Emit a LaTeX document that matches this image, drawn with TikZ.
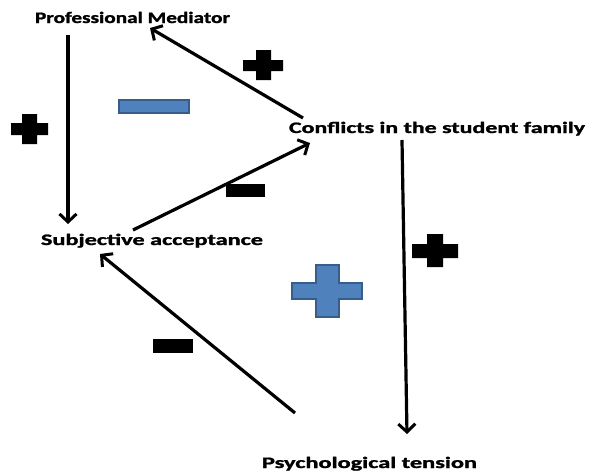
\documentclass[tikz,border=0pt]{standalone}
\usepackage{fontspec}
\setmainfont{Carlito}
\newfontfamily\lblfont{Carlito Bold}[FakeBold=1.3]
\usetikzlibrary{arrows.meta}
\definecolor{signblue}{HTML}{4F81BD}
\definecolor{signblueedge}{HTML}{385D8A}
\newcommand{\lbltext}[2]{\resizebox{#1pt}{\height}{\fontsize{16}{16}\lblfont #2}}
\tikzset{
  lbl/.style={anchor=base west, inner sep=0pt, outer sep=0pt},
  conn/.style={line width=3.2pt, -{Straight Barb[length=8pt,width=17pt,line width=3pt]}},
  blacksign/.style={fill=black, draw=none},
  bluesign/.style={fill=signblue, draw=signblueedge, line width=2.2pt},
}
\begin{document}
\begin{tikzpicture}[x=1pt,y=-1pt]
\useasboundingbox (0,0) rectangle (590,474);
% labels
\node[lbl] (pm) at (35,23) {\lbltext{195}{Professional Mediator}};
\node[lbl] (cf) at (289,133) {\lbltext{296}{Conflicts in the student family}};
\node[lbl] (sa) at (41,245) {\lbltext{222}{Subjective acceptance}};
\node[lbl] (pt) at (262,468) {\lbltext{215}{Psychological tension}};
% connector end points
\coordinate (pmS) at (68,35);
\coordinate (saN) at (68,224);
\coordinate (cfW) at (303,118);
\coordinate (pmE) at (150,28);
\coordinate (saE) at (133,230);
\coordinate (cfSW) at (310,143);
\coordinate (cfS) at (402,140);
\coordinate (ptN) at (407,434);
\coordinate (ptNW) at (295,413);
\coordinate (saS) at (100,254);
% connectors
\draw[conn] (pmS) -- (saN);
\draw[conn] (cfW) -- (pmE);
\draw[conn] (saE) -- (cfSW);
\draw[conn] (cfS) -- (ptN);
\draw[conn] (ptNW) -- (saS);
% black plus signs
\fill[blacksign] (22,114) -- (37,114) -- (37,123) -- (48,123) -- (48,135) -- (37,135) -- (37,144) -- (22,144) -- (22,135) -- (11,135) -- (11,123) -- (22,123) -- cycle;
\fill[blacksign] (256,50) -- (271,50) -- (271,60) -- (283,60) -- (283,71) -- (271,71) -- (271,80) -- (256,80) -- (256,71) -- (243,71) -- (243,60) -- (256,60) -- cycle;
\fill[blacksign] (427,234) -- (443,234) -- (443,244) -- (458,244) -- (458,258) -- (443,258) -- (443,267) -- (427,267) -- (427,258) -- (412,258) -- (412,244) -- (427,244) -- cycle;
% black minus signs
\fill[blacksign] (226,184) rectangle (265,197);
\fill[blacksign] (153,339) rectangle (193,353);
% blue signs
\draw[bluesign] (119,100) rectangle (189,113);
\draw[bluesign] (316,265) -- (339,265) -- (339,283) -- (362,283) -- (362,299) -- (339,299) -- (339,317) -- (316,317) -- (316,299) -- (292,299) -- (292,283) -- (316,283) -- cycle;
\end{tikzpicture}
\end{document}
